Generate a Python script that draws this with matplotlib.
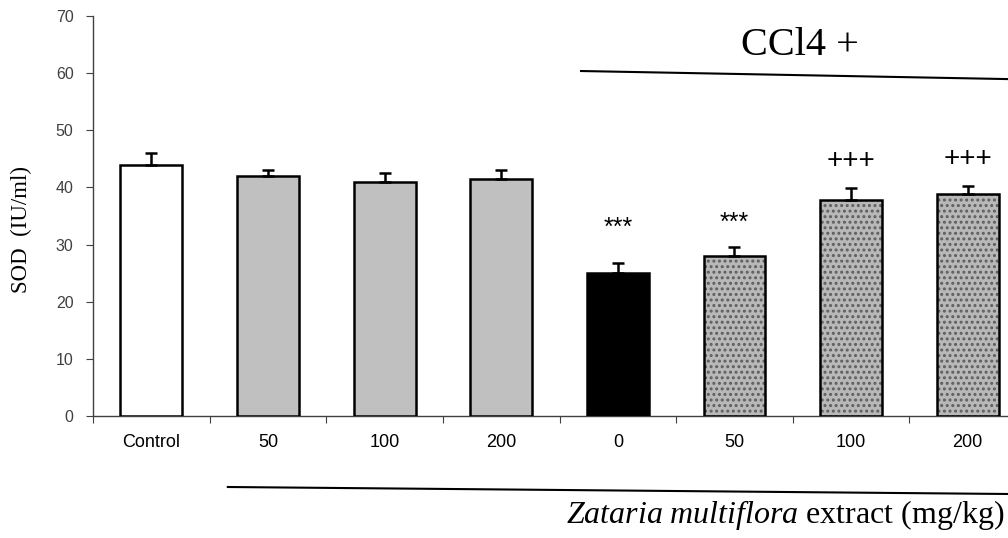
import numpy as np
import matplotlib.pyplot as plt
from matplotlib.lines import Line2D

# SOD activity per group
groups = ['Control', '50', '100', '200', '0', '50', '100', '200']
sod = [44.0, 42.0, 41.0, 41.5, 25.0, 28.0, 37.8, 38.9]
sem = [2.0, 1.0, 1.5, 1.5, 1.7, 1.5, 2.1, 1.4]
marks = ['', '', '', '', '***', '***', '+++', '+++']
mark_y = [0, 0, 0, 0, 32.9, 33.8, 44.7, 44.9]

face = ['white', '#c0c0c0', '#c0c0c0', '#c0c0c0', 'black', '#b8b8b8', '#b8b8b8', '#b8b8b8']
textured = [False, False, False, False, False, True, True, True]

plt.rcParams['mathtext.fontset'] = 'custom'
plt.rcParams['mathtext.rm'] = 'Liberation Serif'
plt.rcParams['mathtext.it'] = 'Liberation Serif:italic'
plt.rcParams['hatch.linewidth'] = 1.4

fig = plt.figure(figsize=(10.08, 5.38), dpi=100)
ax = fig.add_axes([0.0923, 0.2268, 0.9256, 0.7435])

x = np.arange(len(groups))
w = 0.53

for i in range(len(groups)):
    if textured[i]:
        ax.bar(x[i], sod[i], w, color=face[i], edgecolor='#5e5e5e', hatch='...', linewidth=0, zorder=2)
        ax.bar(x[i], sod[i], w, fill=False, edgecolor='black', linewidth=1.8, zorder=3)
    else:
        ax.bar(x[i], sod[i], w, color=face[i], edgecolor='black', linewidth=1.8, zorder=3)

ax.errorbar(x, sod, yerr=[np.zeros(len(sod)), sem], fmt='none', ecolor='black',
            elinewidth=1.8, capsize=4, capthick=1.8, zorder=4)

for i, m in enumerate(marks):
    if m:
        size = 20 if m.startswith('+') else 18
        ax.text(x[i], mark_y[i], m, ha='center', va='center',
                fontsize=size, family='Liberation Sans')

ax.set_xlim(-0.5, 7.5)
ax.set_ylim(0, 70)
ax.set_yticks(range(0, 71, 10))
ax.set_xticks(np.arange(-0.5, 8, 1))
ax.set_xticklabels([])
ax.set_xticks(x, minor=True)
ax.set_xticklabels(groups, minor=True, fontsize=13, family='Liberation Sans')
ax.tick_params(axis='x', which='major', direction='out', length=5, color='#404040')
ax.tick_params(axis='x', which='minor', length=0, pad=13)
ax.tick_params(axis='y', direction='out', length=5, color='#404040', pad=9,
               labelsize=11.5, labelcolor='#404040')
for t in ax.get_yticklabels():
    t.set_family('Liberation Sans')

for s in ['top', 'right']:
    ax.spines[s].set_visible(False)
for s in ['left', 'bottom']:
    ax.spines[s].set_color('#404040')
    ax.spines[s].set_linewidth(1.0)

ax.set_ylabel('SOD  (IU/ml)', fontsize=16.5, family='Liberation Serif')
ax.yaxis.set_label_coords(-0.065, 0.465)

fig.text(0.794, 0.915, 'CCl4 +', ha='center', va='center', fontsize=29, family='Liberation Serif')
fig.add_artist(Line2D([0.5764, 1.0], [0.868, 0.853], color='black', linewidth=1.5))
fig.add_artist(Line2D([0.226, 1.0], [0.0948, 0.0818], color='black', linewidth=1.5))
fig.text(0.997, 0.028, r'$\mathit{Zataria\ multiflora}$ extract (mg/kg)', ha='right',
         va='baseline', fontsize=23, family='Liberation Serif')

fig.savefig('out.png', dpi=100)
